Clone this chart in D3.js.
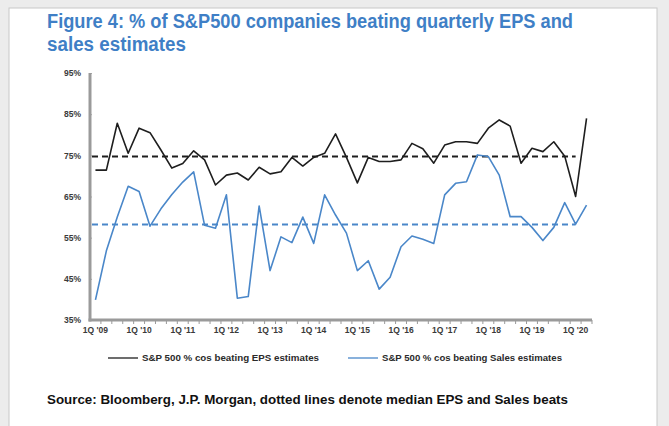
<!DOCTYPE html>
<html>
<head>
<meta charset="utf-8">
<script src="https://cdn.jsdelivr.net/npm/d3@7"></script>
<style>
  html, body { margin: 0; padding: 0; background: #ececec; }
  svg { display: block; }
  .narrow { font-family: "Liberation Sans Narrow", "Arial Narrow", "Liberation Sans", Arial, sans-serif; }
</style>
</head>
<body>
<svg id="chart" width="669" height="426"></svg>
<script>
// ---- Data ----
const quarters = [];
for (let y = 9; y <= 20; y++) {
  for (let q = 1; q <= 4; q++) {
    if (y === 20 && q > 2) break;
    quarters.push(q + "Q '" + String(y).padStart(2, "0"));
  }
}
const epsBeat = [71.4, 71.4, 82.8, 75.5, 81.6, 80.5, 76.3, 71.9, 73.0, 76.1,
                 73.9, 67.8, 70.2, 70.7, 69.0, 72.1, 70.5, 71.0, 74.5, 72.4,
                 74.5, 75.5, 80.2, 74.5, 68.3, 74.5, 73.5, 73.5, 73.9, 77.9,
                 76.6, 73.1, 77.5, 78.3, 78.3, 77.9, 81.6, 83.6, 82.1, 73.1,
                 76.7, 75.9, 78.3, 74.8, 65.0, 84.0];
const salesBeat = [39.9, 51.8, 60.0, 67.5, 66.2, 57.8, 62.0, 65.5, 68.5, 71.0,
                   58.0, 57.3, 65.4, 40.3, 40.7, 62.7, 47.0, 55.2, 53.8, 60.0,
                   53.6, 65.4, 60.5, 56.1, 47.0, 49.4, 42.5, 45.4, 52.8, 55.4,
                   54.6, 53.6, 65.4, 68.2, 68.6, 75.1, 74.7, 70.2, 60.1, 60.1,
                   57.5, 54.3, 57.5, 63.5, 58.3, 62.9];
const epsMedian = 74.7;
const salesMedian = 58.2;
const yTicks = [35, 45, 55, 65, 75, 85, 95];
const seriesNames = ["S&P 500 % cos beating EPS estimates", "S&P 500 % cos beating Sales estimates"];
const titleLines = ["Figure 4: % of S&P500 companies beating quarterly EPS and", "sales estimates"];
const sourceText = "Source: Bloomberg, J.P. Morgan, dotted lines denote median EPS and Sales beats";

// ---- Layout ----
const svg = d3.select("#chart");
const W = 669, H = 426;
const plot = { left: 90, right: 592, top: 73, bottom: 320 };
const blue = "#4a87c9";
const black = "#1e1e1e";
const titleBlue = "#3f7fc6";

// panel
svg.append("rect").attr("x", 9).attr("y", 8).attr("width", 648).attr("height", H)
  .attr("fill", "#fff").attr("stroke", "#c8c8c8").attr("stroke-width", 1);

// title
titleLines.forEach((t, i) => {
  svg.append("text").attr("class", "narrow")
    .attr("x", 47).attr("y", 28 + i * 23)
    .attr("font-size", 20).attr("font-weight", "bold")
    .attr("fill", titleBlue)
    .attr("textLength", i === 0 ? 526 : 139).attr("lengthAdjust", "spacingAndGlyphs")
    .text(t);
});

const x = d3.scaleBand().domain(quarters).range([plot.left, plot.right]).padding(0);
const y = d3.scaleLinear().domain([35, 95]).range([plot.bottom, plot.top]);
const cx = d => x(d) + x.bandwidth() / 2;

// y-axis labels
const yAxis = d3.axisLeft(y).tickValues(yTicks).tickFormat(d => d + "%").tickSize(0).tickPadding(9);
const gy = svg.append("g").attr("transform", `translate(${plot.left},0)`).call(yAxis);
gy.select(".domain").remove();
gy.selectAll("text").attr("class", "narrow").attr("font-size", 8.5).attr("font-weight", "bold").attr("fill", "#3a3a3a");
// small y ticks
gy.selectAll(".tick").append("line").attr("x1", 0).attr("x2", 2).attr("stroke", "#aaa").attr("stroke-width", 1);

// x axis
const labelQuarters = quarters.filter(q => q.startsWith("1Q"));
const xAxis = d3.axisBottom(x).tickValues(labelQuarters).tickSize(0).tickPadding(7);
const gx = svg.append("g").attr("transform", `translate(0,${plot.bottom})`).call(xAxis);
gx.select(".domain").remove();
gx.selectAll("text").attr("class", "narrow").attr("font-size", 8.5).attr("font-weight", "bold").attr("fill", "#3a3a3a");

// x tick marks at band edges
svg.append("g").selectAll("line").data(quarters).join("line")
  .attr("x1", d => x(d) + x.bandwidth()).attr("x2", d => x(d) + x.bandwidth())
  .attr("y1", plot.bottom).attr("y2", plot.bottom + 4)
  .attr("stroke", "#999").attr("stroke-width", 1);

// axis lines
svg.append("line").attr("x1", plot.left).attr("x2", plot.left)
  .attr("y1", plot.top).attr("y2", plot.bottom + 1.5)
  .attr("stroke", "#9a9a9a").attr("stroke-width", 3);
svg.append("line").attr("x1", plot.left - 1.5).attr("x2", plot.right)
  .attr("y1", plot.bottom).attr("y2", plot.bottom)
  .attr("stroke", "#9a9a9a").attr("stroke-width", 3);

// median dashed lines
svg.append("line").attr("x1", plot.left + 2).attr("x2", cx(quarters[quarters.length - 2]))
  .attr("y1", y(epsMedian)).attr("y2", y(epsMedian))
  .attr("stroke", black).attr("stroke-width", 2).attr("stroke-dasharray", "6,4");
svg.append("line").attr("x1", plot.left + 2).attr("x2", cx(quarters[quarters.length - 2]))
  .attr("y1", y(salesMedian)).attr("y2", y(salesMedian))
  .attr("stroke", blue).attr("stroke-width", 1.8).attr("stroke-dasharray", "6,4");

// series lines
const line = d3.line().x((d, i) => cx(quarters[i])).y(d => y(d));
svg.append("path").datum(salesBeat).attr("d", line)
  .attr("fill", "none").attr("stroke", blue).attr("stroke-width", 1.6).attr("stroke-linejoin", "round");
svg.append("path").datum(epsBeat).attr("d", line)
  .attr("fill", "none").attr("stroke", black).attr("stroke-width", 1.6).attr("stroke-linejoin", "round");

// legend
const legY = 358;
const legItems = [
  { name: seriesNames[0], color: black, x0: 108, x1: 138, tx: 142, tl: 177 },
  { name: seriesNames[1], color: blue, x0: 348, x1: 378, tx: 382, tl: 180 }
];
legItems.forEach(it => {
  svg.append("line").attr("x1", it.x0).attr("x2", it.x1).attr("y1", legY).attr("y2", legY)
    .attr("stroke", it.color).attr("stroke-width", 1.3);
  svg.append("text").attr("class", "narrow").attr("x", it.tx).attr("y", legY + 3)
    .attr("font-size", 8.5).attr("font-weight", "bold").attr("fill", "#2a2a2a")
    .attr("textLength", it.tl).attr("lengthAdjust", "spacingAndGlyphs")
    .text(it.name);
});

// source
svg.append("text").attr("class", "narrow").attr("x", 47).attr("y", 404)
  .attr("font-size", 13.5).attr("font-weight", "bold").attr("fill", "#111")
  .attr("textLength", 521).attr("lengthAdjust", "spacingAndGlyphs")
  .text(sourceText);
</script>
</body>
</html>
